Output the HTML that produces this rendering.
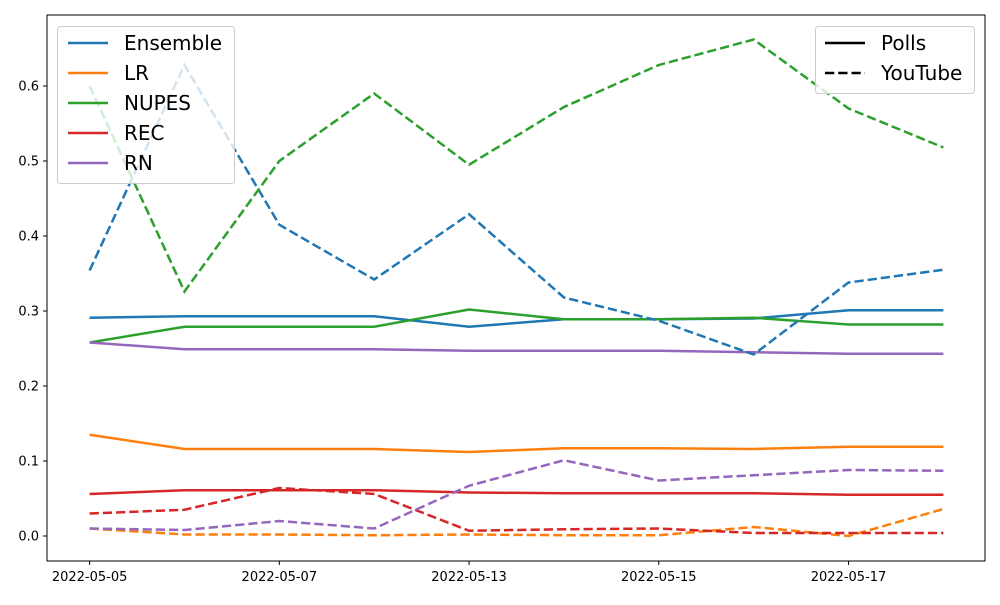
<!DOCTYPE html>
<html><head><meta charset="utf-8"><style>
body{margin:0;background:#fff;}
svg{font-family:"DejaVu Sans","Liberation Sans",sans-serif;}
</style></head><body>
<svg id="chart" width="1000" height="600" xmlns="http://www.w3.org/2000/svg">
<rect width="1000" height="600" fill="#fff"/>
<g id="plot"></g>
</svg>
<script>
const categories=["2022-05-05","2022-05-06","2022-05-07","2022-05-12","2022-05-13","2022-05-14","2022-05-15","2022-05-16","2022-05-17","2022-05-18"];
const xTickLabels=["2022-05-05","","2022-05-07","","2022-05-13","","2022-05-15","","2022-05-17",""];
const yTicks=[0.0,0.1,0.2,0.3,0.4,0.5,0.6];
const seriesNames=["Ensemble","LR","NUPES","REC","RN"];
const seriesColors=["#1f77b4","#ff7f0e","#2ca02c","#d62728","#9467bd"];
const ensemblePolls=[0.291,0.293,0.293,0.293,0.279,0.289,0.289,0.290,0.301,0.301];
const ensembleYT=[0.354,0.628,0.415,0.342,0.429,0.318,0.287,0.242,0.338,0.355];
const lrPolls=[0.135,0.116,0.116,0.116,0.112,0.117,0.117,0.116,0.119,0.119];
const lrYT=[0.010,0.002,0.002,0.001,0.002,0.001,0.001,0.012,0.000,0.036];
const nupesPolls=[0.258,0.279,0.279,0.279,0.302,0.289,0.289,0.291,0.282,0.282];
const nupesYT=[0.600,0.326,0.500,0.590,0.495,0.572,0.628,0.662,0.570,0.518];
const recPolls=[0.056,0.061,0.061,0.061,0.058,0.057,0.057,0.057,0.055,0.055];
const recYT=[0.030,0.035,0.064,0.056,0.007,0.009,0.010,0.004,0.004,0.004];
const rnPolls=[0.258,0.249,0.249,0.249,0.247,0.247,0.247,0.245,0.243,0.243];
const rnYT=[0.010,0.008,0.020,0.010,0.067,0.101,0.074,0.081,0.088,0.087];

const NS="http://www.w3.org/2000/svg";
const g=document.getElementById('plot');
const L=47,R=985,T=15,B=561;
const x=i=>89.6+i*(943.4-89.6)/(categories.length-1);
const y=v=>536-750*v;
function el(t,a,p){const e=document.createElementNS(NS,t);for(const k in a)e.setAttribute(k,a[k]);(p||g).appendChild(e);return e;}

const polls=[ensemblePolls,lrPolls,nupesPolls,recPolls,rnPolls];
const yts=[ensembleYT,lrYT,nupesYT,recYT,rnYT];
polls.forEach((d,s)=>{
  const p=el('polyline',{points:d.map((v,i)=>x(i)+','+y(v)).join(' '),fill:'none',stroke:seriesColors[s],'stroke-width':2.5});
  
  
});
yts.forEach((d,s)=>{
  const p=el('polyline',{points:d.map((v,i)=>x(i)+','+y(v)).join(' '),fill:'none',stroke:seriesColors[s],'stroke-width':2.5,'stroke-dasharray':'9.25,4'});
  
  
});
const ax=el('rect',{x:L,y:T,width:R-L,height:B-T,fill:'none',stroke:'#000','stroke-width':1});


yTicks.forEach(v=>{
  el('line',{x1:L-4,x2:L,y1:y(v),y2:y(v),stroke:'#000'});
  const t=el('text',{x:L-8,y:y(v)+4.5,'text-anchor':'end','font-size':13});
  t.textContent=v.toFixed(1);
  
  
});
categories.forEach((c,i)=>{
  if(!xTickLabels[i])return;
  el('line',{x1:x(i),x2:x(i),y1:B,y2:B+4,stroke:'#000'});
  const t=el('text',{x:x(i),y:B+20,'text-anchor':'middle','font-size':13});
  t.textContent=xTickLabels[i];
  
  
});
// legends
const lg=el('g',{});


el('rect',{x:57.5,y:26.5,width:177,height:157,rx:3,fill:'#fff','fill-opacity':0.8,stroke:'#ccc'},lg);
seriesNames.forEach((n,i)=>{
  const yy=43+i*30;
  el('line',{x1:68,x2:108,y1:yy,y2:yy,stroke:seriesColors[i],'stroke-width':2.5},lg);
  const t=el('text',{x:124,y:yy+7,'font-size':20},lg);
  t.textContent=n;
  
  
});
const lg2=el('g',{});


el('rect',{x:815.5,y:26.5,width:159,height:67,rx:3,fill:'#fff','fill-opacity':0.8,stroke:'#ccc'},lg2);
["Polls","YouTube"].forEach((n,i)=>{
  const yy=43+i*30;
  const a={x1:825,x2:865,y1:yy,y2:yy,stroke:'#000','stroke-width':2.5};
  if(i)a['stroke-dasharray']='9.25,4';
  el('line',a,lg2);
  const t=el('text',{x:881,y:yy+7,'font-size':20},lg2);
  t.textContent=n;
  
  
});
</script>
</body></html>
